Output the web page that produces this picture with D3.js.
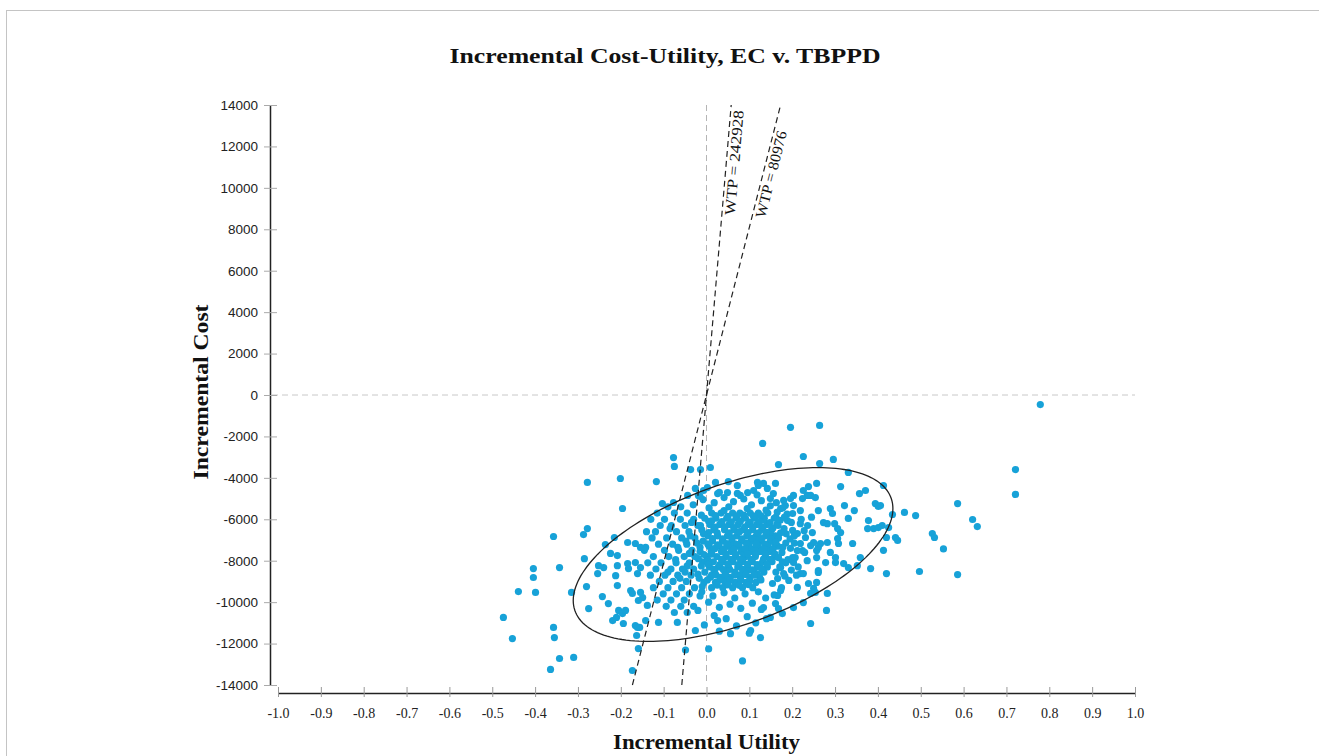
<!DOCTYPE html>
<html>
<head>
<meta charset="utf-8">
<script src="https://cdn.jsdelivr.net/npm/d3@7"></script>
<style>
  body { margin: 0; background: #fff; }
  svg { display: block; }
</style>
</head>
<body>
<div id="chart"></div>
<script>
// ---- data ----
var xTicks = [-1.0, -0.9, -0.8, -0.7, -0.6, -0.5, -0.4, -0.3, -0.2, -0.1, 0.0, 0.1, 0.2, 0.3, 0.4, 0.5, 0.6, 0.7, 0.8, 0.9, 1.0];
var yTicks = [-14000, -12000, -10000, -8000, -6000, -4000, -2000, 0, 2000, 4000, 6000, 8000, 10000, 12000, 14000];
var wtpValues = [242928, 80976];
var wtpLabelCost = [11250, 10750];   // where the label sits along each line
// confidence ellipse: centre, half width in utility, cost terms (cos, sin)
var ellipseCentre = [0.062, -7700];
var ellipseUtil = [0.373];
var ellipseCost = [2220, 3560];

// bootstrap replicates [incremental utility, incremental cost] - outer, readable ones
var outerPoints = [
  [0.779,-460],[0.721,-3600],[0.721,-4800],[0.586,-5240],[0.621,-6010],[0.632,-6350],[0.527,-6690],[0.532,-6880],
  [0.553,-7430],[0.42,-8620],[0.497,-8520],[0.586,-8670],[0.462,-5670],[0.488,-5820],[0.413,-4370],[0.434,-5770],
  [0.41,-6300],[0.425,-6400],[0.441,-6880],[0.446,-7020],[0.42,-6880],[0.413,-7500],[0.406,-5340],
  [0.196,-1560],[0.264,-1470],[0.131,-2340],[0.226,-2970],[0.168,-3360],[0.264,-3310],[0.296,-3110],[0.331,-3740],
  [0.133,-4270],[0.161,-4270],[0.238,-4420],[0.257,-4270],[0.313,-4420],[0.371,-4610],[0.357,-4760],[0.226,-4610],
  [0.235,-4850],[0.224,-5000],[0.394,-5240],[0.401,-5380],[0.322,-5340],[0.345,-5580],[0.261,-5580],[0.289,-5480],
  [0.294,-5720],[0.378,-6060],[0.273,-6160],[0.282,-6210],[0.299,-6210],[0.306,-6450],[0.313,-6640],[0.331,-5960],
  [0.376,-6450],[0.39,-6450],[0.401,-6400],[0.341,-7170],[0.359,-7850],[0.383,-8380],[0.352,-8240],[0.32,-8140],
  [0.331,-8330],[0.301,-7850],[0.301,-8090],[0.289,-7600],[0.278,-8090],[0.257,-7510],[0.257,-7850],[0.261,-8570],
  [0.243,-7270],[0.224,-7510],[0.261,-7360],[0.266,-7170],[0.282,-7120],[0.306,-6930],[0.308,-7170],[0.231,-6880],
  [0.247,-6640],[0.25,-7120],[0.201,-6540],[0.212,-6690],[0.219,-6210],[0.236,-6300],[0.189,-6060],[0.201,-5720],
  [0.219,-5580],[0.184,-5340],[0.203,-5340],[0.173,-5480],[0.18,-5090],[0.196,-5000],[0.243,-4850],[0.254,-4950],
  [0.156,-4760],[0.149,-5000],[0.203,-4850],[0.219,-7170],[0.212,-7510],[0.201,-7850],[0.203,-8090],[0.219,-8620],
  [0.226,-8620],[0.212,-9290],[0.25,-9340],[0.243,-9580],[0.254,-9530],[0.282,-9580],[0.257,-9050],[0.261,-8480],
  [0.18,-8620],[0.173,-8330],[0.166,-8860],[0.154,-9100],[0.226,-10020],[0.203,-10260],[0.168,-10310],[0.177,-10550],
  [0.161,-10070],[0.28,-10400],[0.243,-11030],[0.126,-11710],[0.149,-10740],[0.133,-10260],[0.173,-9440],[0.166,-9680],
  [-0.278,-4220],[-0.201,-4030],[-0.196,-5480],[-0.357,-6830],[-0.278,-6450],[-0.287,-6740],[-0.215,-6880],[-0.236,-7220],
  [-0.184,-7120],[-0.166,-7170],[-0.154,-7360],[-0.142,-7360],[-0.285,-7900],[-0.224,-7650],[-0.208,-7750],[-0.252,-8240],
  [-0.24,-8330],[-0.254,-8620],[-0.208,-8240],[-0.184,-8140],[-0.182,-8380],[-0.166,-8090],[-0.154,-8330],[-0.161,-8620],
  [-0.404,-8380],[-0.404,-8810],[-0.343,-8330],[-0.212,-8720],[-0.208,-9200],[-0.439,-9490],[-0.399,-9530],[-0.315,-9530],
  [-0.28,-9250],[-0.243,-9730],[-0.229,-10070],[-0.177,-9440],[-0.173,-9580],[-0.154,-9530],[-0.149,-9780],[-0.159,-9920],
  [-0.275,-10310],[-0.205,-10400],[-0.196,-10550],[-0.189,-10400],[-0.21,-10740],[-0.219,-10890],[-0.194,-11030],[-0.138,-10160],
  [-0.474,-10740],[-0.453,-11760],[-0.357,-11220],[-0.355,-11710],[-0.166,-11130],[-0.161,-11220],[-0.156,-11220],[-0.163,-11610],
  [-0.159,-12240],[-0.343,-12720],[-0.31,-12670],[-0.364,-13250],[-0.173,-13300],
  [-0.077,-3020],[-0.075,-3450],[-0.037,-3600],[-0.014,-3600],[0.009,-3500],[-0.117,-4180],[0.021,-4220],[0.051,-4180],
  [0.072,-4370],[0.119,-4220],[-0.026,-4510],[-0.007,-4610],[0.002,-4470],[-0.044,-4850],[-0.019,-4850],[-0.103,-5240],
  [-0.077,-5190],[0.026,-4760],[0.049,-4710],[0.079,-4850],[0.096,-4710],[0.11,-4610],[0.121,-4370],[0.142,-4510],
  [-0.049,-12310],[0.005,-12260],[0.084,-12840],[-0.026,-11370],[0.026,-10890],[-0.068,-10980],[-0.112,-10980],[-0.142,-10890],
  [0.056,-11520],[0.103,-11370]
];

// the dense middle of the cloud, estimated
var corePoints = [
  [0.012,-5700],[0.034,-5700],[0.061,-5700],[0.078,-5700],[0.102,-5700],[0.121,-5700],[0.143,-5700],
  [-0.004,-5950],[0.022,-5950],[0.047,-5950],[0.069,-5950],[0.091,-5950],[0.113,-5950],[0.135,-5950],[0.158,-5950],
  [0.008,-6250],[0.031,-6250],[0.053,-6250],[0.074,-6250],[0.097,-6250],[0.118,-6250],[0.141,-6250],[0.164,-6250],
  [-0.011,-6500],[0.017,-6500],[0.042,-6500],[0.064,-6500],[0.086,-6500],[0.108,-6500],[0.129,-6500],[0.152,-6500],
  [0.003,-6800],[0.026,-6800],[0.049,-6800],[0.071,-6800],[0.094,-6800],[0.116,-6800],[0.138,-6800],[0.161,-6800],
  [-0.008,-7050],[0.014,-7050],[0.037,-7050],[0.059,-7050],[0.082,-7050],[0.104,-7050],[0.127,-7050],[0.149,-7050],
  [0.006,-7300],[0.029,-7300],[0.052,-7300],[0.076,-7300],[0.099,-7300],[0.121,-7300],[0.144,-7300],[0.166,-7300],
  [-0.015,-7550],[0.011,-7550],[0.035,-7550],[0.058,-7550],[0.081,-7550],[0.103,-7550],[0.126,-7550],[0.148,-7550],
  [0.001,-7800],[0.024,-7800],[0.046,-7800],[0.068,-7800],[0.092,-7800],[0.114,-7800],[0.137,-7800],[0.159,-7800],
  [-0.009,-8050],[0.016,-8050],[0.039,-8050],[0.062,-8050],[0.085,-8050],[0.107,-8050],[0.131,-8050],[0.153,-8050],
  [0.007,-8300],[0.028,-8300],[0.051,-8300],[0.073,-8300],[0.096,-8300],[0.119,-8300],[0.142,-8300],
  [-0.004,-8550],[0.019,-8550],[0.043,-8550],[0.066,-8550],[0.088,-8550],[0.111,-8550],[0.134,-8550],
  [0.009,-8800],[0.033,-8800],[0.055,-8800],[0.079,-8800],[0.101,-8800],[0.124,-8800],
  [-0.006,-9050],[0.021,-9050],[0.044,-9050],[0.067,-9050],[0.092,-9050],[0.115,-9050],
  [0.012,-9300],[0.038,-9300],[0.061,-9300],[0.084,-9300],[0.108,-9300],
  [0.005,-6100],[0.058,-6120],[0.089,-6380],[0.132,-6040],[0.025,-6650],[0.077,-6600],[0.118,-6930],[0.147,-6700],
  [0.038,-6950],[0.066,-7190],[0.093,-7150],[0.155,-7450],[0.019,-7420],[0.045,-7680],[0.087,-7700],[0.112,-7420],
  [0.133,-7920],[0.057,-7940],[0.003,-7960],[0.076,-8180],[0.125,-8200],[0.031,-8190],[0.098,-8450],[0.054,-8420],
  [0.012,-8700],[0.078,-8680],[0.119,-8650],[0.044,-8930],[0.101,-8950],[0.026,-7230],[0.109,-5830],[0.071,-5840],
  [0.041,-5580],[0.139,-5560],[0.162,-5900],[-0.014,-6300],[-0.022,-7150],[-0.019,-7900],[-0.02,-8650],
  [0.021,-5820],[0.05,-5860],[0.087,-5800],[0.127,-5830],[0.012,-6080],[0.036,-6110],[0.079,-6090],[0.102,-6140],
  [0.124,-6110],[0.148,-6160],[0.02,-6380],[0.043,-6360],[0.064,-6400],[0.108,-6370],[0.131,-6390],[0.155,-6420],
  [0.005,-6640],[0.053,-6660],[0.097,-6640],[0.121,-6660],[0.139,-6620],[0.014,-6930],[0.06,-6900],[0.083,-6950],
  [0.106,-6920],[0.129,-6930],[0.151,-6960],[0.003,-7190],[0.047,-7170],[0.071,-7210],[0.115,-7180],[0.137,-7200],
  [0.159,-7160],[0.017,-7440],[0.041,-7430],[0.064,-7450],[0.09,-7420],[0.135,-7430],[0.012,-7680],[0.068,-7690],
  [0.096,-7660],[0.115,-7690],[0.138,-7670],[0.16,-7680],[0.035,-7930],[0.079,-7920],[0.104,-7930],[0.148,-7940],
  [0.004,-8180],[0.05,-8180],[0.096,-8170],[0.118,-8190],[0.141,-8170],[0.017,-8420],[0.039,-8430],[0.084,-8420],
  [0.107,-8440],[0.129,-8400],[0.022,-8680],[0.045,-8670],[0.066,-8690],[0.092,-8660],[0.111,-8700],[0.002,-8930],
  [0.031,-8930],[0.055,-8940],[0.08,-8920],[0.127,-8930],[0.025,-9180],[0.05,-9170],[0.076,-9190],[0.098,-9160],
  [0.172,-6050],[0.181,-6450],[0.168,-6900],[0.185,-7150],[0.176,-7600],[0.19,-7950],[0.171,-8300],[0.183,-8750],
  [0.196,-7400],[0.205,-6800],[0.188,-5750],[0.178,-5450],[0.163,-5200],[0.207,-7850],[0.214,-8300],[0.192,-8950],
  [0.175,-9300],[0.158,-9650],[0.229,-7600],[0.221,-6000],
  [0.165,-5650],[0.182,-5900],[0.198,-6150],[0.167,-6300],[0.186,-6700],[0.173,-6650],[0.195,-6950],[0.162,-7100],
  [0.178,-7350],[0.205,-7150],[0.168,-7850],[0.185,-8100],[0.198,-8450],[0.162,-8550],[0.177,-8050],[0.21,-8700],
  [0.235,-8000],[0.228,-6550],[0.245,-5900],[0.238,-9100],
  [-0.012,-5800],[-0.035,-6150],[-0.007,-6700],[-0.038,-6800],[-0.015,-7350],[-0.048,-7050],[-0.006,-7700],[-0.04,-7650],
  [-0.012,-8250],[-0.045,-8250],[-0.017,-8850],[-0.05,-8550],[-0.01,-9250],[-0.067,-7350],[-0.072,-7950],[-0.062,-8850],
  [-0.085,-6450],[-0.09,-8550],[-0.015,-9700],
  [-0.09,-5400],[-0.06,-5400],[-0.115,-5700],[-0.075,-5700],[-0.045,-5700],
  [-0.13,-6000],[-0.098,-6000],[-0.061,-6000],[-0.03,-6000],[-0.108,-6300],[-0.082,-6300],[-0.05,-6300],[-0.02,-6300],
  [-0.14,-6600],[-0.119,-6600],[-0.07,-6600],[-0.041,-6600],[-0.127,-6900],[-0.093,-6900],[-0.058,-6900],[-0.027,-6900],
  [-0.112,-7200],[-0.079,-7200],[-0.046,-7200],[-0.145,-7500],[-0.098,-7500],[-0.065,-7500],[-0.034,-7500],
  [-0.124,-7800],[-0.088,-7800],[-0.052,-7800],[-0.027,-7800],[-0.137,-8100],[-0.106,-8100],[-0.071,-8100],[-0.04,-8100],
  [-0.118,-8400],[-0.083,-8400],[-0.056,-8400],[-0.03,-8400],[-0.131,-8700],[-0.097,-8700],[-0.067,-8700],[-0.036,-8700],
  [-0.11,-9000],[-0.078,-9000],[-0.047,-9000],[-0.124,-9300],[-0.09,-9300],[-0.058,-9300],[-0.028,-9300],
  [-0.101,-9600],[-0.07,-9600],[-0.04,-9600],[-0.115,-9900],[-0.083,-9900],[-0.052,-9900],
  [-0.094,-10200],[-0.06,-10200],[-0.03,-10200],[-0.075,-10500],[-0.045,-10500],
  [-0.031,-5300],[-0.008,-5050],[0.018,-5200],[0.041,-4950],[0.063,-5150],[0.087,-5020],[0.105,-5300],[0.128,-5100],
  [0.149,-5350],[0.006,-5450],[0.052,-5400],[0.095,-5480],[0.118,-4820],[0.03,-4700],[-0.015,-4900],[0.072,-4750],
  [-0.011,-9500],[0.015,-9700],[0.041,-9550],[0.066,-9800],[0.09,-9600],[0.121,-9500],[0.138,-9800],[0.005,-10000],
  [0.03,-10250],[0.055,-10100],[0.08,-10300],[0.107,-10050],[0.128,-10350],[-0.02,-10400],[0.018,-10650],[0.046,-10800],
  [0.095,-10700],[0.115,-11000],[-0.005,-11100],[0.07,-11150],[0.03,-11400],[0.1,-11500],[0.14,-10800]
];

var width = 1319, height = 756;
var serif = "'Liberation Serif', 'Times New Roman', serif";

var svg = d3.select("#chart")
    .append("svg")
    .attr("width", width)
    .attr("height", height)

// thin frame (only top & left show in the picture)
svg.append("rect")
    .attr("x", 6.5).attr("y", 10.5)
    .attr("width", width + 20).attr("height", height + 20)
    .attr("fill", "none")
    .attr("stroke", "#c4c4c4")
    .attr("stroke-width", 1)

var x = d3.scaleLinear().domain([-1, 1]).range([278, 1135])
var y = d3.scaleLinear().domain([-14000, 14000]).range([685, 105])

// title (the picture is a bit stretched sideways, hence textLength)
svg.append("text")
    .attr("x", 665).attr("y", 63)
    .attr("text-anchor", "middle")
    .attr("textLength", 431)
    .attr("lengthAdjust", "spacingAndGlyphs")
    .style("font-family", serif)
    .style("font-weight", "bold")
    .style("font-size", "21px")
    .style("fill", "#111")
    .text("Incremental Cost-Utility, EC v. TBPPD")

// reference lines through origin
svg.append("line")
    .attr("x1", 272).attr("x2", x(1))
    .attr("y1", y(0)).attr("y2", y(0))
    .attr("stroke", "#c8c8c8")
    .attr("stroke-dasharray", "6,4")

svg.append("line")
    .attr("x1", x(0)).attr("x2", x(0))
    .attr("y1", y(14000)).attr("y2", y(-14000))
    .attr("stroke", "#b5b5b5")
    .attr("stroke-dasharray", "6,4")

// points
var allPoints = outerPoints.concat(corePoints)
svg.append("g")
    .selectAll("circle")
    .data(allPoints)
    .enter()
    .append("circle")
    .attr("cx", function(d) { return x(d[0]) })
    .attr("cy", function(d) { return y(d[1]) })
    .attr("r", 3.6)
    .style("fill", "#17a2d8")

// WTP lines
var wtpLabelLength = [105, 89]
wtpValues.forEach(function(w, i) {
    svg.append("line")
        .attr("x1", x(-14000 / w)).attr("y1", y(-14000))
        .attr("x2", x(14000 / w)).attr("y2", y(14000))
        .attr("stroke", "#222")
        .attr("stroke-width", 1.2)
        .attr("stroke-dasharray", "6,4")

    var ang = Math.atan2(y(14000) - y(0), x(14000 / w) - x(0)) * 180 / Math.PI
    var c = wtpLabelCost[i]
    svg.append("text")
        .attr("transform", "translate(" + x(c / w) + "," + y(c) + ") rotate(" + ang + ")")
        .attr("text-anchor", "middle")
        .attr("dy", 13)
        .attr("textLength", wtpLabelLength[i])
        .attr("lengthAdjust", "spacingAndGlyphs")
        .style("font-family", serif)
        .style("font-size", "15px")
        .style("fill", "#111")
        .text("WTP = " + w)
})

// ellipse
var ellipseLine = d3.line()
    .x(function(t) { return x(ellipseCentre[0] + ellipseUtil[0] * Math.cos(t)) })
    .y(function(t) { return y(ellipseCentre[1] + ellipseCost[0] * Math.cos(t) + ellipseCost[1] * Math.sin(t)) })
    .curve(d3.curveLinearClosed)

svg.append("path")
    .attr("d", ellipseLine(d3.range(0, 2 * Math.PI, Math.PI / 90)))
    .attr("fill", "none")
    .attr("stroke", "#222")
    .attr("stroke-width", 1.3)

// y axis
var yAxis = svg.append("g")
    .attr("transform", "translate(270,0)")
    .call(d3.axisLeft(y).tickValues(yTicks).tickSizeOuter(0).tickFormat(function(d) { return String(d) }))
yAxis.select(".domain").attr("stroke", "#222").attr("stroke-width", 1.5)
yAxis.selectAll(".tick line").attr("x1", -6).attr("x2", 7).attr("stroke", "#aaa")
yAxis.selectAll(".tick text")
    .attr("x", -12)
    .style("font-family", "'Liberation Sans', Arial, sans-serif")
    .style("font-size", "13.5px")
    .style("fill", "#222")

// x axis
var xAxis = svg.append("g")
    .attr("transform", "translate(0,693)")
    .call(d3.axisBottom(x).tickValues(xTicks).tickSizeOuter(0).tickFormat(function(d) { return d.toFixed(1) }))
xAxis.select(".domain").attr("stroke", "#222").attr("stroke-width", 1.5)
xAxis.selectAll(".tick line").attr("y1", -6).attr("y2", 4).attr("stroke", "#999")
xAxis.selectAll(".tick text")
    .attr("y", 15)
    .style("font-family", serif)
    .style("font-size", "14px")
    .style("fill", "#222")

// axis titles
svg.append("text")
    .attr("x", x(0)).attr("y", 749)
    .attr("text-anchor", "middle")
    .attr("textLength", 187)
    .attr("lengthAdjust", "spacingAndGlyphs")
    .style("font-family", serif)
    .style("font-weight", "bold")
    .style("font-size", "20px")
    .style("fill", "#111")
    .text("Incremental Utility")

svg.append("text")
    .attr("transform", "translate(208,392) rotate(-90)")
    .attr("text-anchor", "middle")
    .attr("textLength", 175)
    .attr("lengthAdjust", "spacingAndGlyphs")
    .style("font-family", serif)
    .style("font-weight", "bold")
    .style("font-size", "20px")
    .style("fill", "#111")
    .text("Incremental Cost")
</script>
</body>
</html>
